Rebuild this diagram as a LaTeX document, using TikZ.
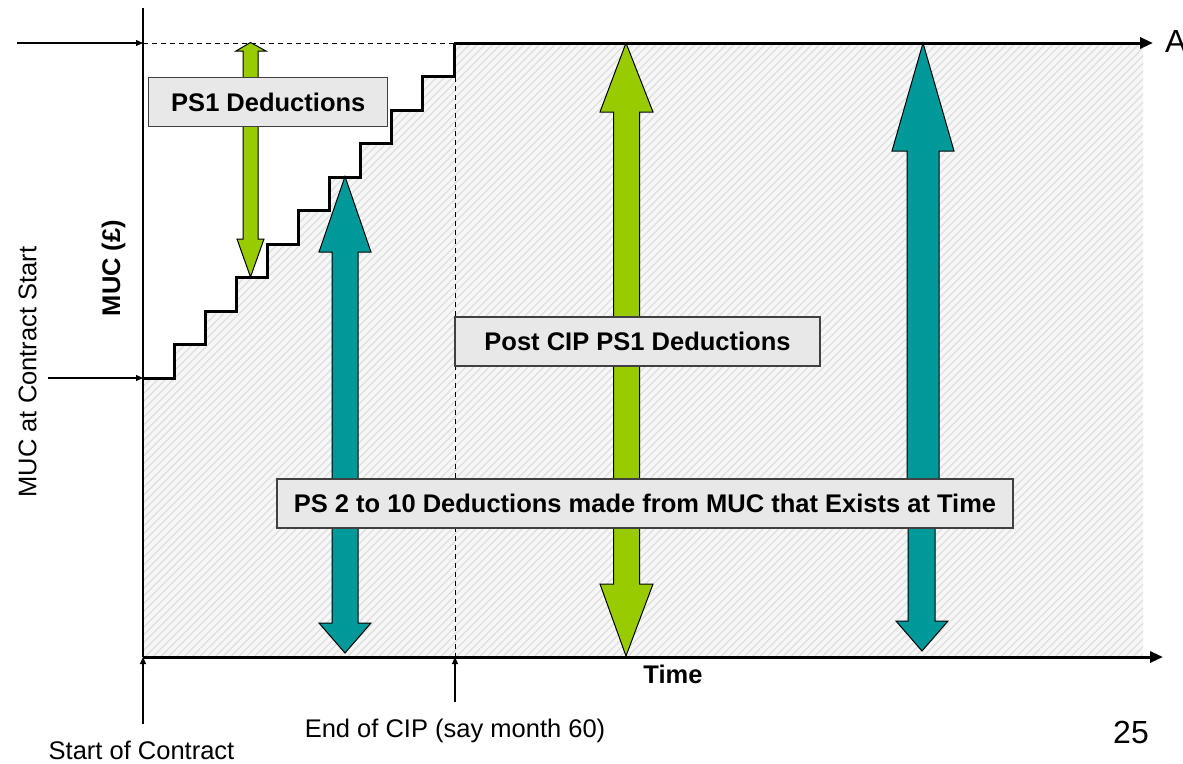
\documentclass[tikz,border=0pt]{standalone}
\usepackage{fontspec}
\setmainfont{Liberation Sans}
\usetikzlibrary{arrows.meta,patterns.meta}
\definecolor{pgreen}{HTML}{99CC00}
\definecolor{pteal}{HTML}{009999}
\definecolor{boxfill}{HTML}{E8E8E8}
\begin{document}
\begin{tikzpicture}[x=1pt,y=-1pt,
  lbl/.style={font=\fontsize{25.5}{30}\selectfont, inner sep=0pt},
  blbl/.style={font=\fontsize{25.5}{30}\selectfont\bfseries, inner sep=0pt},
  infobox/.style={draw=black!75, line width=1.3pt, fill=boxfill, inner sep=0pt,
    font=\fontsize{25.5}{30}\selectfont\bfseries, minimum height=49pt},
  blockarrow/.style={draw=black, line width=1pt, line join=miter},
  axisline/.style={line width=3pt, -{Triangle[length=13pt,width=11pt]}},
  pointer/.style={line width=1.2pt, -{Triangle[length=7pt,width=6pt]}},
  guide/.style={line width=1pt, dash pattern=on 5pt off 4pt}]
\useasboundingbox (0,0) rectangle (1183,763);
% coordinates
\coordinate (o) at (143,657);
\coordinate (ytop) at (143,8);
\coordinate (xend) at (1163,657);
\coordinate (s0) at (143,378);
\coordinate (cipTop) at (454,43);
\coordinate (aend) at (1153,43);
\coordinate (cipLow) at (455,76.5);
\coordinate (cipAxis) at (455,657);
\coordinate (maxIn) at (17,43);
\coordinate (maxAt) at (143,43);
\coordinate (startIn) at (48,378);
\coordinate (scIn) at (143,724);
\coordinate (cipIn) at (455,702);
% hatched area
\path[fill=black!3] (143,657) -- (143,378) -- (174.1,378) -- (174.1,344.5) -- (205.2,344.5) -- (205.2,311) -- (236.3,311) -- (236.3,277.5) -- (267.4,277.5) -- (267.4,244) -- (298.5,244) -- (298.5,210.5) -- (329.6,210.5) -- (329.6,177) -- (360.7,177) -- (360.7,143.5) -- (391.8,143.5) -- (391.8,110) -- (422.9,110) -- (422.9,76.5) -- (454,76.5) -- (454,43) -- (1143,43) -- (1143,657) -- cycle;
\path[pattern={Lines[angle=45,distance=5.5pt,line width=1.4pt]}, pattern color=black!12] (143,657) -- (143,378) -- (174.1,378) -- (174.1,344.5) -- (205.2,344.5) -- (205.2,311) -- (236.3,311) -- (236.3,277.5) -- (267.4,277.5) -- (267.4,244) -- (298.5,244) -- (298.5,210.5) -- (329.6,210.5) -- (329.6,177) -- (360.7,177) -- (360.7,143.5) -- (391.8,143.5) -- (391.8,110) -- (422.9,110) -- (422.9,76.5) -- (454,76.5) -- (454,43) -- (1143,43) -- (1143,657) -- cycle;
% guides
\draw[guide] (maxAt) -- (cipTop);
\draw[guide] (cipLow) -- (cipAxis);
% staircase and top line
\draw[line width=3pt, line join=miter] (s0) -- (174.1,378) -- (174.1,344.5) -- (205.2,344.5) -- (205.2,311) -- (236.3,311) -- (236.3,277.5) -- (267.4,277.5) -- (267.4,244) -- (298.5,244) -- (298.5,210.5) -- (329.6,210.5) -- (329.6,177) -- (360.7,177) -- (360.7,143.5) -- (391.8,143.5) -- (391.8,110) -- (422.9,110) -- (422.9,76.5) -- (454,76.5) -- (cipTop);
\draw[axisline] (cipTop) -- (aend);
% axes
\draw[line width=2.5pt] (ytop) -- (o);
\draw[axisline] (o) -- (xend);
% pointers
\draw[pointer] (maxIn) -- (maxAt);
\draw[pointer] (startIn) -- (s0);
\draw[pointer] (scIn) -- (o);
\draw[pointer] (cipIn) -- (cipAxis);
% block arrows
\draw[blockarrow, fill=pgreen] (250.5,42.5) -- (266,51) -- (258,51) -- (258,239) -- (264,239) -- (250.5,277) -- (237,239) -- (243,239) -- (243,51) -- (236,51) -- cycle;
\draw[blockarrow, fill=pteal] (345,176.5) -- (371,252) -- (358,252) -- (358,623) -- (371,623) -- (345,653) -- (319,623) -- (332,623) -- (332,252) -- (319,252) -- cycle;
\draw[blockarrow, fill=pgreen] (626,43) -- (653,112) -- (639.5,112) -- (639.5,584) -- (653,584) -- (626,656) -- (600,584) -- (613.5,584) -- (613.5,112) -- (600,112) -- cycle;
\draw[blockarrow, fill=pteal] (923,43) -- (954,151) -- (939,151) -- (939,500) -- (935,500) -- (935,621) -- (948,621) -- (922,651) -- (896,621) -- (908,621) -- (908,500) -- (907,500) -- (907,151) -- (892,151) -- cycle;
% boxes
\node[infobox, minimum width=239pt] (ps1) at (268.3,102.2) {PS1 Deductions};
\node[infobox, minimum width=365pt] (post) at (637.5,341.5) {Post CIP PS1 Deductions};
\node[infobox, minimum width=736pt] (ps2) at (645,503.5) {PS 2 to 10 Deductions made from MUC that Exists at Time};
% labels
\node[blbl, rotate=90] (muc) at (113.5,268) {MUC (£)};
\node[lbl, rotate=90] (mucstart) at (27.5,372) {MUC at Contract Start};
\node[lbl, anchor=base] (startc) at (141.5,759) {Start of Contract};
\node[lbl, anchor=base] (endcip) at (455,737) {End of CIP (say month 60)};
\node[blbl, anchor=base] (time) at (673,683) {Time};
\node[font=\fontsize{32}{36}\selectfont, inner sep=0pt, anchor=base] (page) at (1131,743) {25};
\node[font=\fontsize{32}{36}\selectfont, inner sep=0pt, anchor=base west] (alab) at (1165,52) {A};
\end{tikzpicture}
\end{document}
